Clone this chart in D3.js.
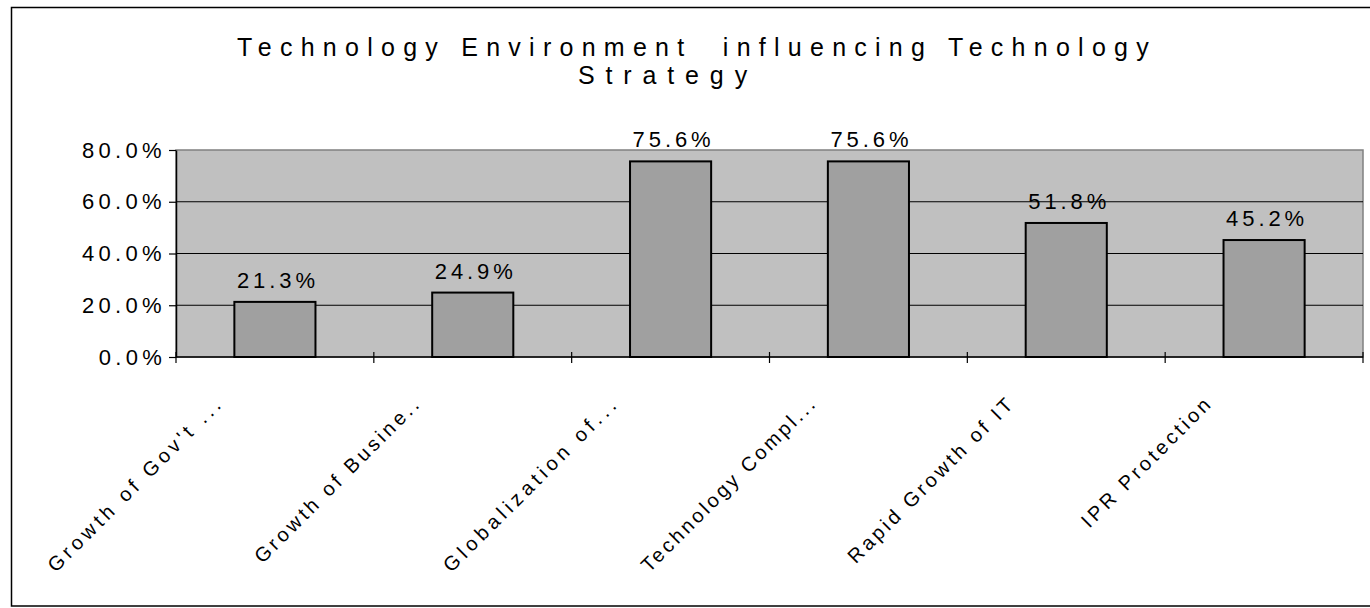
<!DOCTYPE html>
<html>
<head>
<meta charset="utf-8">
<script src="https://cdn.jsdelivr.net/npm/d3@7"></script>
<style>
  body { margin: 0; background: #fff; }
  svg { display: block; }
  text { font-family: "Liberation Sans", Arial, sans-serif; fill: #000; white-space: pre; }
</style>
</head>
<body>
<div id="graf"></div>
<script>
// I. Datos
categorias = ["Growth of Gov't ...", "Growth of Busine..", "Globalization of...",
              "Technology Compl...", "Rapid Growth of IT", "IPR Protection"]
valores = [21.3, 24.9, 75.6, 75.6, 51.8, 45.2]
ticksY = [0, 20, 40, 60, 80]
titulo = ["Technology Environment  influencing Technology", "Strategy"]

// II. Configuración
ancho_total = 1370
alto_total = 608

margins = { top: 150, left: 176, right: 7, bottom: 251 }
ancho = ancho_total - margins.left - margins.right
alto = alto_total - margins.top - margins.bottom

svg = d3.select('#graf').append('svg')
        .attr('width', ancho_total)
        .attr('height', alto_total)

// separa las letras para parecerse a la fuente original (muy ancha)
function espaciar(sel, porLetra) {
  sel.each(function() {
    t = d3.select(this).attr('letter-spacing', 0)
    n = t.text().length
    w = this.getComputedTextLength()
    t.attr('letter-spacing', (n * porLetra - w) / n)
  })
}

// marco exterior
svg.append('rect')
   .attr('x', 11.5).attr('y', 7.5)
   .attr('width', 1400).attr('height', 598.5)
   .attr('fill', 'none')
   .attr('stroke', '#000')
   .attr('stroke-width', 1.5)

// titulo
svg.append('g').selectAll('text')
   .data(titulo)
   .enter().append('text')
     .attr('x', (d, i) => i ? 668 : 697)
     .attr('y', (d, i) => 56 + i * 28)
     .attr('text-anchor', 'middle')
     .style('font-size', '25px')
     .text(d => d)
     .each(function(d, i) { d3.select(this).call(espaciar, i ? 22.5 : 20) })

g = svg.append('g')
       .attr('transform', `translate(${margins.left}, ${margins.top})`)

// III. Escalas
x = d3.scaleBand()
      .domain(categorias)
      .range([0, ancho])
      .paddingInner(0.59)
      .paddingOuter(0.295)

y = d3.scaleLinear()
      .domain([0, 80])
      .range([alto, 0])

// fondo del área de trazado
g.append('rect')
 .attr('width', ancho)
 .attr('height', alto)
 .attr('fill', '#c0c0c0')
 .attr('stroke', '#808080')
 .attr('stroke-width', 1.5)

// rejilla
g.append('g').selectAll('line')
 .data(ticksY.filter(d => d > 0 && d < 80))
 .enter().append('line')
   .attr('x1', 0).attr('x2', ancho)
   .attr('y1', d => y(d)).attr('y2', d => y(d))
   .attr('stroke', '#000')
   .attr('stroke-width', 1)

// barras
g.append('g').selectAll('rect')
 .data(valores)
 .enter().append('rect')
   .attr('x', (d, i) => x(categorias[i]))
   .attr('y', d => y(d))
   .attr('width', x.bandwidth())
   .attr('height', d => alto - y(d))
   .attr('fill', '#a0a0a0')
   .attr('stroke', '#000')
   .attr('stroke-width', 2)

// etiquetas de datos
g.append('g').selectAll('text')
 .data(valores)
 .enter().append('text')
   .attr('x', (d, i) => x(categorias[i]) + x.bandwidth() / 2 + 3)
   .attr('y', d => y(d) - 14)
   .attr('text-anchor', 'middle')
   .style('font-size', '22px')
   .text(d => d.toFixed(1) + '%')
   .call(espaciar, 16.4)

// eje Y
yAxisCall = d3.axisLeft(y)
              .tickValues(ticksY)
              .tickSize(7)
              .tickSizeOuter(0)
              .tickPadding(3)
              .tickFormat(d => d.toFixed(1) + '%')
yAxisGroup = g.append('g').call(yAxisCall)
yAxisGroup.select('.domain').attr('stroke', '#000').attr('stroke-width', 1.5)
yAxisGroup.selectAll('.tick line').attr('stroke', '#000').attr('stroke-width', 1.2)
yAxisGroup.selectAll('text')
          .style('font-size', '22px')
          .attr('font-family', null)
          .call(espaciar, 16.8)

// eje X: marcas en los límites de cada categoría
limites = d3.range(categorias.length + 1).map(i => i * x.step())
g.append('line')
 .attr('x1', 0).attr('x2', ancho)
 .attr('y1', alto).attr('y2', alto)
 .attr('stroke', '#000').attr('stroke-width', 1.5)
g.append('g').selectAll('line')
 .data(limites)
 .enter().append('line')
   .attr('x1', d => d).attr('x2', d => d)
   .attr('y1', alto - 5).attr('y2', alto + 6)
   .attr('stroke', '#000').attr('stroke-width', 1.2)

// etiquetas de categoría giradas
g.append('g').selectAll('text')
 .data(categorias)
 .enter().append('text')
   .attr('transform', d => `translate(${x(d) + x.bandwidth() / 2 - 50}, ${alto + 47}) rotate(-45)`)
   .attr('text-anchor', 'end')
   .style('font-size', '20px')
   .text(d => d)
   .call(espaciar, 12.6)
</script>
</body>
</html>
